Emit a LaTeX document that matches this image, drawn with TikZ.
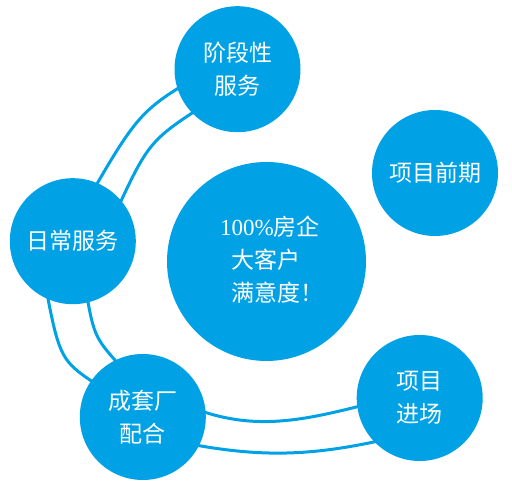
\documentclass[tikz,border=0pt]{standalone}
\usepackage{fontspec}
\setmainfont{Liberation Serif}
\newfontfamily\cjk{Noto Sans CJK SC}
\definecolor{skyblue}{RGB}{0,162,229}
\tikzset{
  bubble/.style={circle, fill=skyblue, minimum size=126pt, inner sep=0pt, text=white, align=center, font=\cjk\fontsize{23}{33}\selectfont},
  hub/.style={bubble, minimum size=199pt},
  link/.style={draw=skyblue, line width=3pt, shorten <=-2pt, shorten >=-2pt},
}
\begin{document}
\begin{tikzpicture}[x=1pt,y=1pt]
\useasboundingbox (0,0) rectangle (512,487);
\node[bubble] (stage) at (237.5,417.8) {阶段性\\服务};
\node[bubble] (early) at (435,314) {项目前期};
\node[bubble] (daily) at (72.8,245.8) {日常服务};
\node[hub] (core) at (266.5,225.5) {};
\node[bubble, fill=none, minimum size=0pt, align=left] (goal) at ([xshift=5pt,yshift=1.5pt]core.center) {{\rmfamily 100\%}房企\\\hspace*{11pt}大客户\\\hspace*{11pt}满意度！};
\node[bubble] (kit) at (142.8,70) {成套厂\\配合};
\node[bubble] (site) at (419.7,89) {项目\\进场};
\draw[link] (daily.67) .. controls +(60:70) and +(212:40) .. (stage.198);
\draw[link] (daily.40) .. controls +(65:58) and +(213:48) .. (stage.224);
\draw[link] (daily.247) .. controls +(281:58) and +(146:34) .. (kit.145);
\draw[link] (daily.284) .. controls +(280:32) and +(132:27) .. (kit.116);
\draw[link] (kit.4) .. controls +(-18:55) and +(194:55) .. (site.188);
\draw[link] (kit.-27) .. controls +(-10:65) and +(192:65) .. (site.224);
\end{tikzpicture}
\end{document}
